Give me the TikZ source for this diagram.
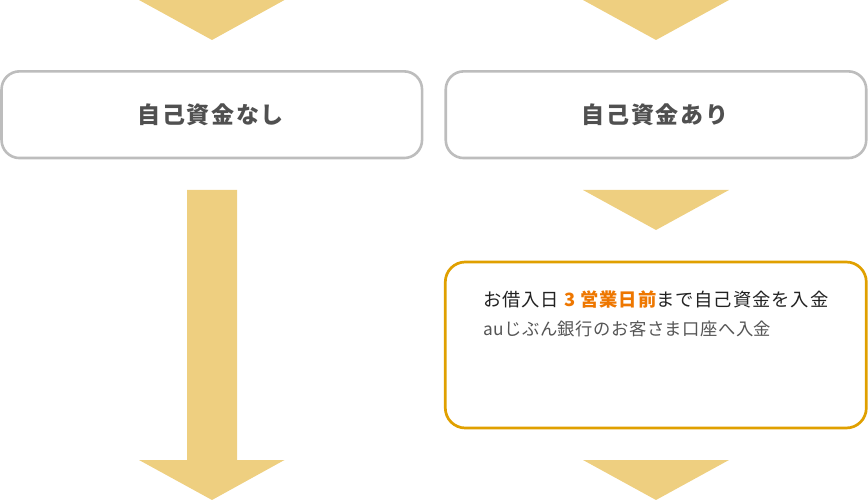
\documentclass[tikz,border=0pt]{standalone}
\usepackage{fontspec}
\setmainfont{Noto Sans CJK JP}
\newfontfamily\jpfont{Noto Sans CJK JP}
\definecolor{arrowfill}{HTML}{EECF80}
\definecolor{grayline}{HTML}{BDBDBD}
\definecolor{orangeline}{HTML}{E0A000}
\definecolor{headtext}{HTML}{505050}
\definecolor{subtext}{HTML}{555555}
\definecolor{hiliteorange}{HTML}{EE7700}
\definecolor{maintext}{HTML}{222222}
\begin{document}
\begin{tikzpicture}[x=1pt,y=-1pt,
  graybox/.style={draw=grayline, line width=2.6pt, rounded corners=18pt, fill=white,
    minimum width=420.5pt, minimum height=86.7pt, inner sep=0pt,
    font=\jpfont\fontsize{23}{26}\selectfont\bfseries\addfontfeature{LetterSpace=7}, text=headtext},
  orangebox/.style={draw=orangeline, line width=2.7pt, rounded corners=20pt, fill=white,
    minimum width=421pt, minimum height=166pt, inner sep=0pt},
  arrowshape/.style={fill=arrowfill, draw=none},
  line1/.style={anchor=base west, inner sep=0pt, text=maintext,
    font=\jpfont\fontsize{18.3}{22}\selectfont\addfontfeature{LetterSpace=5}},
  line2/.style={anchor=base west, inner sep=0pt, text=subtext,
    font=\jpfont\fontsize{17.3}{22}\selectfont\addfontfeature{LetterSpace=3}}
]
\useasboundingbox (0,0) rectangle (868,500);
% top arrows
\fill[arrowshape] (139,0) -- (284.5,0) -- (212,40) -- cycle;
\fill[arrowshape] (583,0) -- (729,0) -- (656,40) -- cycle;
% boxes
\node[graybox] (nashi) at (211.8,114.7) {\hspace*{-2pt}自己資金なし};
\node[graybox] (ari) at (656,114.7) {\hspace*{-2pt}自己資金あり};
% left long arrow
\coordinate (lefttop) at (212,190);
\fill[arrowshape] (187,190) -- (237,190) -- (237,460) -- (284.5,460) -- (212,500) -- (139,460) -- (187,460) -- cycle;
% right arrow between
\fill[arrowshape] (583,190) -- (729,190) -- (656,230) -- cycle;
% orange box
\node[orangebox] (deposit) at (655.8,345) {};
\node[line1] (dl1) at (483,306) {お借入日 {\bfseries\color{hiliteorange}3 営業日前}まで自己資金を入金};
\node[line2] (dl2) at (483,335) {auじぶん銀行のお客さま口座へ入金};
% bottom right arrow
\fill[arrowshape] (583,460) -- (729,460) -- (656,500) -- cycle;
\end{tikzpicture}
\end{document}
